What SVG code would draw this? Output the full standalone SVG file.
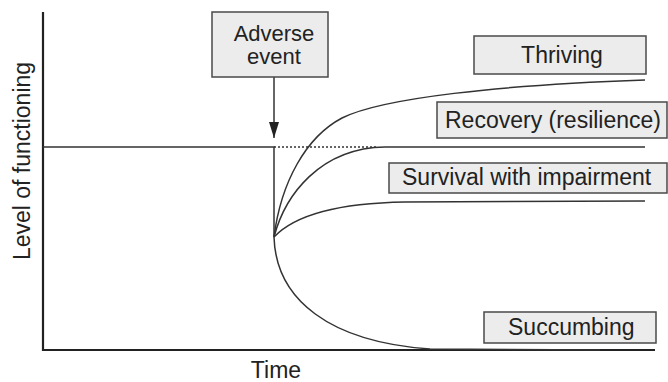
<svg xmlns="http://www.w3.org/2000/svg" width="668" height="382" viewBox="0 0 668 382">
<style>
.box{fill:#ececec;stroke:#4a4a4a;stroke-width:1.5}
.t{font-family:"Liberation Sans",Arial,sans-serif;font-size:23px;fill:#222}
.ln{fill:none;stroke:#333;stroke-width:1.5}
.ax{fill:none;stroke:#222;stroke-width:2.2}
</style>
<defs>
<marker id="ah" markerWidth="16" markerHeight="10" refX="16" refY="5" orient="auto" markerUnits="userSpaceOnUse" viewBox="0 0 16 10">
<path d="M0,0 L16,5 L0,10 Z" fill="#222"/>
</marker>
</defs>
<rect width="668" height="382" fill="#fff"/>
<g id="axes">
<path class="ax" d="M43,12 L43,350 L655,350"/>
<text class="t" x="276" y="378" text-anchor="middle">Time</text>
<text class="t" transform="translate(30,161) rotate(-90)" text-anchor="middle">Level of functioning</text>
</g>
<g id="connectors">
<path class="ln" d="M43,147 L274,147 L274,237"/>
<path class="ln" d="M274,147 L378,147" stroke-dasharray="2,2"/>
<path class="ln" d="M274,77 L274,138" marker-end="url(#ah)"/>
<path class="ln" d="M274,237 C281,182 306,137 342,118 C382,98 500,85 645,80"/>
<path class="ln" d="M274,237 C285,195 320,148 385,147 L645,147"/>
<path class="ln" d="M274,237 C295,215 340,203 405,202 L645,201"/>
<path class="ln" d="M274,237 C276,300 330,342 430,349 L600,350"/>
</g>
<g id="adverse">
<rect class="box" x="212" y="12" width="116" height="65"/>
<text class="t" x="274" y="41" text-anchor="middle" style="font-size:22px">Adverse</text>
<text class="t" x="274" y="64" text-anchor="middle" style="font-size:22px">event</text>
</g>
<g id="thriving">
<rect class="box" x="474" y="36" width="172" height="38"/>
<text class="t" x="562" y="63" text-anchor="middle">Thriving</text>
</g>
<g id="recovery">
<rect class="box" x="437" y="102" width="230" height="36"/>
<text class="t" x="445" y="128">Recovery (resilience)</text>
</g>
<g id="survival">
<rect class="box" x="389" y="163" width="278" height="30"/>
<text class="t" x="402" y="185">Survival with impairment</text>
</g>
<g id="succumbing">
<rect class="box" x="484" y="312" width="172" height="31"/>
<text class="t" x="508" y="335">Succumbing</text>
</g>
</svg>
